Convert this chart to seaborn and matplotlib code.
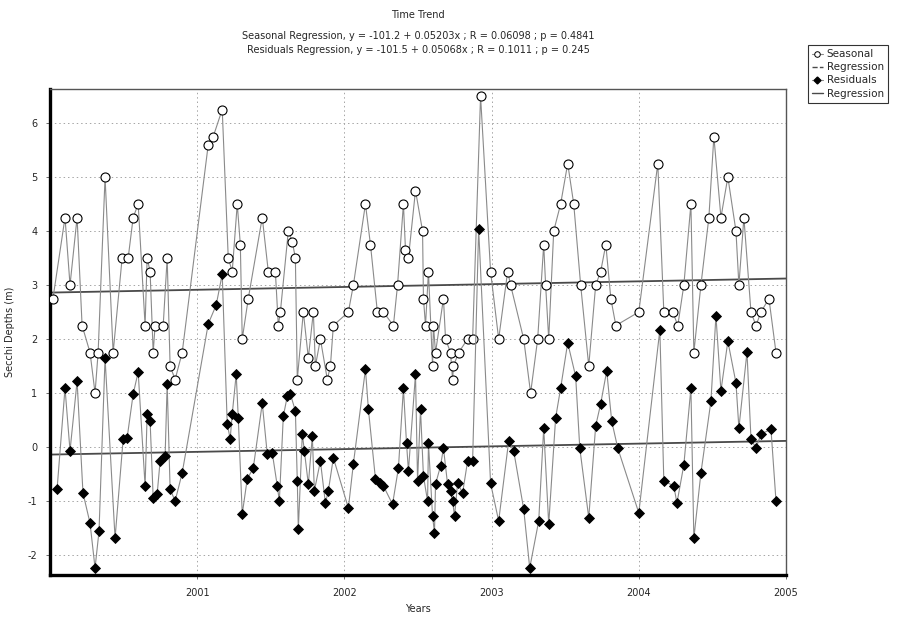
import numpy as np
import pandas as pd
import matplotlib
matplotlib.use("Agg")
import matplotlib.pyplot as plt
from matplotlib.lines import Line2D
import seaborn as sns

# ---------------- data ----------------
seasonal_years = [
    2000.020, 2000.102, 2000.136, 2000.184, 2000.218, 2000.272, 2000.306, 2000.327,
    2000.374, 2000.429, 2000.490, 2000.531, 2000.565, 2000.599, 2000.646, 2000.660,
    2000.680, 2000.701, 2000.714, 2000.769, 2000.796, 2000.816, 2000.850, 2000.898,
    2001.075, 2001.109, 2001.170, 2001.211, 2001.238, 2001.272, 2001.293, 2001.306,
    2001.347, 2001.442, 2001.483, 2001.531, 2001.551, 2001.565, 2001.619, 2001.646,
    2001.667, 2001.680, 2001.721, 2001.755, 2001.789, 2001.803, 2001.837, 2001.884,
    2001.905, 2001.925, 2002.027, 2002.061, 2002.143, 2002.177, 2002.224, 2002.265,
    2002.333, 2002.361, 2002.401, 2002.415, 2002.435, 2002.483, 2002.531, 2002.537,
    2002.551, 2002.571, 2002.599, 2002.605, 2002.619, 2002.673, 2002.687, 2002.721,
    2002.735, 2002.741, 2002.776, 2002.837, 2002.871, 2002.925, 2002.993, 2003.048,
    2003.109, 2003.129, 2003.218, 2003.265, 2003.313, 2003.354, 2003.367, 2003.388,
    2003.422, 2003.469, 2003.517, 2003.558, 2003.605, 2003.660, 2003.707, 2003.741,
    2003.776, 2003.810, 2003.844, 2004.000, 2004.129, 2004.170, 2004.231, 2004.265,
    2004.306, 2004.354, 2004.374, 2004.422, 2004.476, 2004.510, 2004.558, 2004.605,
    2004.660, 2004.680, 2004.714, 2004.762, 2004.796, 2004.830, 2004.884, 2004.932,
]
seasonal_values = [
    2.75, 4.25, 3.0, 4.25, 2.25, 1.75, 1.0, 1.75,
    5.0, 1.75, 3.5, 3.5, 4.25, 4.5, 2.25, 3.5,
    3.25, 1.75, 2.25, 2.25, 3.5, 1.5, 1.25, 1.75,
    5.6, 5.75, 6.25, 3.5, 3.25, 4.5, 3.75, 2.0,
    2.75, 4.25, 3.25, 3.25, 2.25, 2.5, 4.0, 3.8,
    3.5, 1.25, 2.5, 1.65, 2.5, 1.5, 2.0, 1.25,
    1.5, 2.25, 2.5, 3.0, 4.5, 3.75, 2.5, 2.5,
    2.25, 3.0, 4.5, 3.65, 3.5, 4.75, 4.0, 2.75,
    2.25, 3.25, 1.5, 2.25, 1.75, 2.75, 2.0, 1.75,
    1.25, 1.5, 1.75, 2.0, 2.0, 6.5, 3.25, 2.0,
    3.25, 3.0, 2.0, 1.0, 2.0, 3.75, 3.0, 2.0,
    4.0, 4.5, 5.25, 4.5, 3.0, 1.5, 3.0, 3.25,
    3.75, 2.75, 2.25, 2.5, 5.25, 2.5, 2.5, 2.25,
    3.0, 4.5, 1.75, 3.0, 4.25, 5.75, 4.25, 5.0,
    4.0, 3.0, 4.25, 2.5, 2.25, 2.5, 2.75, 1.75,
]

residual_years = [
    2000.048, 2000.102, 2000.136, 2000.184, 2000.224, 2000.272, 2000.306, 2000.333,
    2000.374, 2000.442, 2000.497, 2000.524, 2000.565, 2000.599, 2000.646, 2000.660,
    2000.680, 2000.701, 2000.728, 2000.748, 2000.782, 2000.796, 2000.816, 2000.850,
    2000.898, 2001.075, 2001.129, 2001.170, 2001.204, 2001.224, 2001.238, 2001.265,
    2001.279, 2001.306, 2001.340, 2001.381, 2001.442, 2001.476, 2001.510, 2001.544,
    2001.558, 2001.585, 2001.612, 2001.633, 2001.667, 2001.680, 2001.687, 2001.714,
    2001.728, 2001.755, 2001.782, 2001.796, 2001.837, 2001.871, 2001.891, 2001.925,
    2002.027, 2002.061, 2002.143, 2002.163, 2002.211, 2002.245, 2002.265, 2002.327,
    2002.367, 2002.401, 2002.422, 2002.435, 2002.483, 2002.497, 2002.517, 2002.537,
    2002.565, 2002.571, 2002.599, 2002.612, 2002.619, 2002.653, 2002.673, 2002.701,
    2002.721, 2002.735, 2002.748, 2002.769, 2002.803, 2002.837, 2002.871, 2002.912,
    2002.993, 2003.048, 2003.116, 2003.150, 2003.218, 2003.259, 2003.320, 2003.354,
    2003.388, 2003.435, 2003.469, 2003.517, 2003.571, 2003.599, 2003.660, 2003.707,
    2003.741, 2003.782, 2003.816, 2003.857, 2004.000, 2004.143, 2004.170, 2004.238,
    2004.259, 2004.306, 2004.354, 2004.374, 2004.422, 2004.490, 2004.524, 2004.558,
    2004.605, 2004.660, 2004.680, 2004.735, 2004.762, 2004.796, 2004.830, 2004.898,
    2004.932,
]
residual_values = [
    -0.78, 1.09, -0.07, 1.22, -0.85, -1.41, -2.24, -1.56,
    1.65, -1.69, 0.15, 0.17, 0.98, 1.39, -0.72, 0.61,
    0.48, -0.94, -0.87, -0.26, -0.17, 1.17, -0.78, -1.0,
    -0.48, 2.28, 2.63, 3.2, 0.43, 0.15, 0.61, 1.35,
    0.54, -1.24, -0.59, -0.39, 0.81, -0.13, -0.11, -0.72,
    -1.0, 0.57, 0.94, 0.98, 0.67, -0.63, -1.52, 0.24,
    -0.07, -0.69, 0.2, -0.81, -0.26, -1.04, -0.81, -0.2,
    -1.13, -0.31, 1.44, 0.7, -0.59, -0.67, -0.72, -1.06,
    -0.39, 1.09, 0.07, -0.44, 1.35, -0.63, 0.7, -0.54,
    -1.0, 0.07, -1.28, -1.59, -0.69, -0.35, -0.02, -0.69,
    -0.81, -1.0, -1.28, -0.67, -0.85, -0.26, -0.26, 4.04,
    -0.67, -1.37, 0.11, -0.07, -1.15, -2.24, -1.37, 0.35,
    -1.43, 0.54, 1.09, 1.93, 1.31, -0.02, -1.31, 0.39,
    0.8, 1.41, 0.48, -0.02, -1.22, 2.17, -0.63, -0.72,
    -1.04, -0.33, 1.09, -1.69, -0.48, 0.85, 2.43, 1.04,
    1.96, 1.19, 0.35, 1.76, 0.15, -0.02, 0.24, 0.33,
    -1.0,
]

# regression coefficients stated in the chart
seasonal_intercept, seasonal_slope = -101.2, 0.05203
residual_intercept, residual_slope = -101.5, 0.05068

x_ticks = [2001, 2002, 2003, 2004, 2005]
y_ticks = [-2, -1, 0, 1, 2, 3, 4, 5, 6]

title = "Time Trend"
subtitle_1 = "Seasonal Regression, y = -101.2 + 0.05203x ; R = 0.06098 ; p = 0.4841"
subtitle_2 = "Residuals Regression, y = -101.5 + 0.05068x ; R = 0.1011 ; p = 0.245"
x_label = "Years"
y_label = "Secchi Depths (m)"
legend_labels = ["Seasonal", "Regression", "Residuals", "Regression"]

# ---------------- plotting ----------------
sns.set_theme(style="white")
plt.rcParams["font.family"] = ["DejaVu Sans"]

df_s = pd.DataFrame({"year": seasonal_years, "value": seasonal_values})
df_r = pd.DataFrame({"year": residual_years, "value": residual_values})

fig = plt.figure(figsize=(9.09, 6.23), dpi=100)
ax = fig.add_axes([50 / 909, 48 / 623, 736 / 909, 486 / 623])

xlim = (2000.0, 2005.0)
ylim = (-2.37, 6.63)

line_grey = "#8a8a8a"
reg_grey = "#4a4a4a"

# regression lines
reg_x = np.array(xlim)
sns.lineplot(x=reg_x, y=seasonal_intercept + seasonal_slope * reg_x, ax=ax,
             color=reg_grey, lw=1.3, zorder=2)
sns.lineplot(x=reg_x, y=residual_intercept + residual_slope * reg_x, ax=ax,
             color=reg_grey, lw=1.3, zorder=2)

# series
sns.lineplot(data=df_s, x="year", y="value", ax=ax, estimator=None, sort=True,
             color=line_grey, lw=0.8, marker="o", markersize=6.5,
             markerfacecolor="white", markeredgecolor="black",
             markeredgewidth=0.8, zorder=3)
sns.lineplot(data=df_r, x="year", y="value", ax=ax, estimator=None, sort=True,
             color=line_grey, lw=0.8, marker="D", markersize=5,
             markerfacecolor="black", markeredgecolor="black",
             markeredgewidth=0.6, zorder=4)

ax.set_xlim(*xlim)
ax.set_ylim(*ylim)
ax.set_xticks(x_ticks)
ax.set_xticklabels([str(t) for t in x_ticks], fontsize=7)
ax.set_yticks(y_ticks)
ax.set_yticklabels([str(t) for t in y_ticks], fontsize=7)
ax.tick_params(axis="both", length=3, width=0.6, color="#555555", pad=6,
               bottom=True, left=True)
ax.grid(True, linestyle=(0, (1.5, 3)), color="#a5a5a5", linewidth=0.7)
ax.set_axisbelow(True)

for side in ["left", "bottom"]:
    ax.spines[side].set_linewidth(2.4)
    ax.spines[side].set_color("black")
for side in ["top", "right"]:
    ax.spines[side].set_linewidth(1.0)
    ax.spines[side].set_color("#555555")

ax.set_xlabel(x_label, fontsize=7, labelpad=5)
ax.set_ylabel(y_label, fontsize=7, labelpad=9)

cx = (50 + 786) / 2 / 909
fig.text(cx, 1 - 15 / 623, title, ha="center", va="center", fontsize=7)
fig.text(cx, 1 - 36 / 623, subtitle_1, ha="center", va="center", fontsize=7)
fig.text(cx, 1 - 50 / 623, subtitle_2, ha="center", va="center", fontsize=7)

handles = [
    Line2D([], [], color=line_grey, lw=0.8, marker="o", markersize=4,
           markerfacecolor="white", markeredgecolor="black", markeredgewidth=0.7),
    Line2D([], [], color=reg_grey, lw=1.0, linestyle="--"),
    Line2D([], [], color=line_grey, lw=0.8, marker="D", markersize=3.5,
           markerfacecolor="black", markeredgecolor="black"),
    Line2D([], [], color=reg_grey, lw=1.0),
]
leg = fig.legend(handles, legend_labels, loc="upper left",
                 bbox_to_anchor=(808 / 909, 1 - 45 / 623), fontsize=7.5,
                 frameon=True, fancybox=False, handlelength=1.0,
                 handletextpad=0.4, borderpad=0.4, labelspacing=0.3,
                 borderaxespad=0)
leg.get_frame().set_edgecolor("black")
leg.get_frame().set_linewidth(0.8)

fig.savefig("out.png", dpi=100)
